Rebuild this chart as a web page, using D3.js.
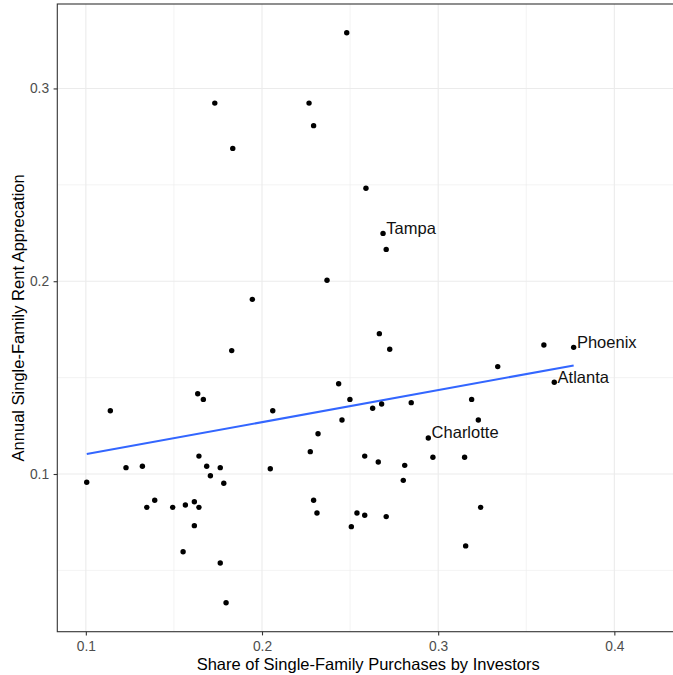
<!DOCTYPE html>
<html>
<head>
<meta charset="utf-8">
<script src="https://cdn.jsdelivr.net/npm/d3@7"></script>
<style>
  html, body { margin: 0; padding: 0; background: #fff; }
  svg { display: block; font-family: "Liberation Sans", Arial, sans-serif; }
</style>
</head>
<body>
<svg id="chart" width="673" height="675"></svg>
<script>
// Share of single-family purchases by investors (x)
const investorShare = [
  0.2481, 0.1732, 0.2267, 0.2293, 0.1834, 0.2590, 0.2687, 0.2705, 0.2369, 0.1945,
  0.1828, 0.1139, 0.1635, 0.1667, 0.2061, 0.2435, 0.2499, 0.2454, 0.2318, 0.2274,
  0.2583, 0.1642, 0.1228, 0.1321, 0.1686, 0.1763, 0.2047, 0.1707, 0.1005, 0.1783,
  0.1391, 0.1346, 0.1493, 0.1565, 0.1616, 0.1642, 0.2293, 0.2312, 0.2539, 0.2583,
  0.2507, 0.1616, 0.1552, 0.1763, 0.1796, 0.2666, 0.2725, 0.3600, 0.3769, 0.3338,
  0.3659, 0.2628, 0.2679, 0.2847, 0.3190, 0.3228, 0.2944, 0.2660, 0.2810, 0.2970,
  0.3150, 0.2802, 0.2705, 0.3241, 0.3156
];
// Annual single-family rent appreciation (y)
const rentAppreciation = [
  0.3289, 0.2924, 0.2924, 0.2807, 0.2689, 0.2482, 0.2248, 0.2165, 0.2005, 0.1906,
  0.1640, 0.1328, 0.1416, 0.1387, 0.1328, 0.1468, 0.1387, 0.1280, 0.1209, 0.1116,
  0.1093, 0.1093, 0.1033, 0.1040, 0.1040, 0.1033, 0.1027, 0.0991, 0.0957, 0.0952,
  0.0864, 0.0827, 0.0827, 0.0839, 0.0856, 0.0827, 0.0864, 0.0798, 0.0798, 0.0786,
  0.0727, 0.0732, 0.0597, 0.0538, 0.0332, 0.1728, 0.1647, 0.1669, 0.1657, 0.1557,
  0.1476, 0.1341, 0.1363, 0.1370, 0.1387, 0.1280, 0.1187, 0.1062, 0.1045, 0.1087,
  0.1087, 0.0967, 0.0779, 0.0827, 0.0627
];
// City labels (empty = unlabeled)
const cityLabels = [
  "", "", "", "", "", "", "Tampa", "", "", "",
  "", "", "", "", "", "", "", "", "", "",
  "", "", "", "", "", "", "", "", "", "",
  "", "", "", "", "", "", "", "", "", "",
  "", "", "", "", "", "", "", "", "Phoenix", "",
  "Atlanta", "", "", "", "", "", "Charlotte", "", "", "",
  "", "", "", "", ""
];
const xTicks = [0.1, 0.2, 0.3, 0.4];
const xMinorTicks = [0.15, 0.25, 0.35];
const yTicks = [0.1, 0.2, 0.3];
const yMinorTicks = [0.05, 0.15, 0.25];
const xTitle = "Share of Single-Family Purchases by Investors";
const yTitle = "Annual Single-Family Rent Apprecation";

const data = investorShare.map((x, i) => ({ x, y: rentAppreciation[i], label: cityLabels[i] }));

const panel = { left: 57.3, top: 4, right: 679, bottom: 631.7 };
const x = d3.scaleLinear().domain([0.0838, 0.4367]).range([panel.left, panel.right]);
const y = d3.scaleLinear().domain([0.0182, 0.3438]).range([panel.bottom, panel.top]);

const svg = d3.select("#chart");

// grid
const grid = svg.append("g");
grid.selectAll(".xminor").data(xMinorTicks).join("line")
  .attr("x1", d => x(d)).attr("x2", d => x(d))
  .attr("y1", panel.top).attr("y2", panel.bottom)
  .attr("stroke", "#ebebeb").attr("stroke-width", 0.6);
grid.selectAll(".yminor").data(yMinorTicks).join("line")
  .attr("y1", d => y(d)).attr("y2", d => y(d))
  .attr("x1", panel.left).attr("x2", panel.right)
  .attr("stroke", "#ebebeb").attr("stroke-width", 0.6);
grid.selectAll(".xmajor").data(xTicks).join("line")
  .attr("x1", d => x(d)).attr("x2", d => x(d))
  .attr("y1", panel.top).attr("y2", panel.bottom)
  .attr("stroke", "#ebebeb").attr("stroke-width", 1.1);
grid.selectAll(".ymajor").data(yTicks).join("line")
  .attr("y1", d => y(d)).attr("y2", d => y(d))
  .attr("x1", panel.left).attr("x2", panel.right)
  .attr("stroke", "#ebebeb").attr("stroke-width", 1.1);

// regression line (least squares, from data)
const mx = d3.mean(data, d => d.x), my = d3.mean(data, d => d.y);
const slope = d3.sum(data, d => (d.x - mx) * (d.y - my)) / d3.sum(data, d => (d.x - mx) ** 2);
const icpt = my - slope * mx;
const [xmin, xmax] = d3.extent(data, d => d.x);
svg.append("line")
  .attr("x1", x(xmin)).attr("y1", y(icpt + slope * xmin))
  .attr("x2", x(xmax)).attr("y2", y(icpt + slope * xmax))
  .attr("stroke", "#3366FF").attr("stroke-width", 2.1);

// points
svg.append("g").selectAll("circle").data(data).join("circle")
  .attr("cx", d => x(d.x)).attr("cy", d => y(d.y)).attr("r", 2.7)
  .attr("fill", "#000");

// labels
svg.append("g").selectAll("text").data(data.filter(d => d.label)).join("text")
  .attr("x", d => x(d.x) + 3.3).attr("y", d => y(d.y) + 0.5)
  .attr("font-size", "16.5px").attr("fill", "#111")
  .text(d => d.label);

// border
svg.append("rect")
  .attr("x", panel.left).attr("y", panel.top)
  .attr("width", panel.right - panel.left).attr("height", panel.bottom - panel.top)
  .attr("fill", "none").attr("stroke", "#333").attr("stroke-width", 1.1);

// axes
const xAxis = svg.append("g").attr("transform", `translate(0,${panel.bottom})`)
  .call(d3.axisBottom(x).tickValues(xTicks).tickSize(3.7).tickPadding(6).tickFormat(d3.format("")));
const yAxis = svg.append("g").attr("transform", `translate(${panel.left},0)`)
  .call(d3.axisLeft(y).tickValues(yTicks).tickSize(3.7).tickPadding(4.5).tickFormat(d3.format("")));
[xAxis, yAxis].forEach(a => {
  a.select(".domain").remove();
  a.selectAll(".tick line").attr("stroke", "#333").attr("stroke-width", 1.1);
  a.selectAll(".tick text").attr("fill", "#4d4d4d").attr("font-size", "13.8px")
    .attr("font-family", "Liberation Sans, Arial, sans-serif");
});

// titles
svg.append("text")
  .attr("x", (panel.left + panel.right) / 2).attr("y", 670)
  .attr("text-anchor", "middle").attr("font-size", "16.5px").attr("fill", "#000")
  .text(xTitle);
svg.append("text")
  .attr("transform", `translate(24,${(panel.top + panel.bottom) / 2}) rotate(-90)`)
  .attr("text-anchor", "middle").attr("font-size", "16.5px").attr("fill", "#000")
  .text(yTitle);
</script>
</body>
</html>
